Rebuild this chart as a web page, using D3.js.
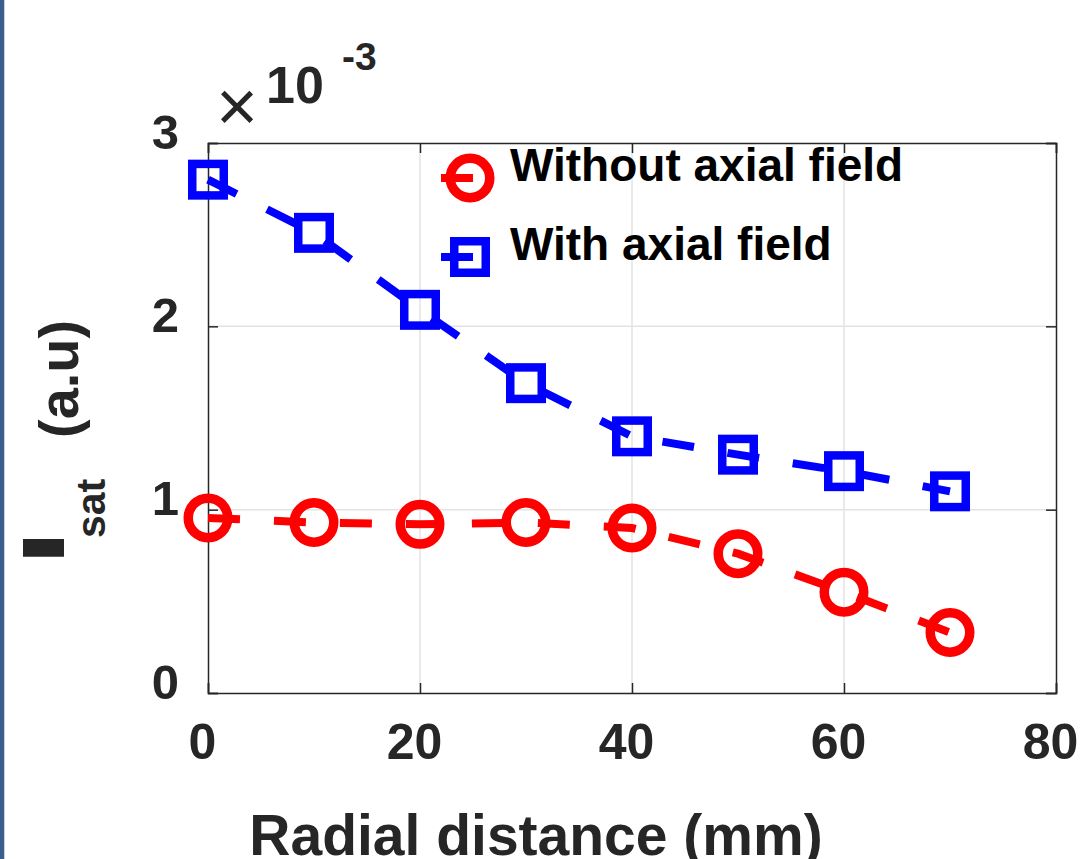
<!DOCTYPE html>
<html>
<head>
<meta charset="utf-8">
<script src="https://cdn.jsdelivr.net/npm/d3@7"></script>
<style>
  html, body { margin: 0; padding: 0; background: #fff; }
  svg { display: block; font-family: "Liberation Sans", Arial, sans-serif; font-weight: bold; }
</style>
</head>
<body>
<div id="chart"></div>
<script>
/* Isat vs radial distance, with and without axial field. */

var radialMm = [0, 10, 20, 30, 40, 50, 60, 70];
var withoutField = [0.955e-3, 0.93e-3, 0.92e-3, 0.93e-3, 0.90e-3, 0.76e-3, 0.55e-3, 0.33e-3];
var withField = [2.80e-3, 2.51e-3, 2.09e-3, 1.69e-3, 1.40e-3, 1.30e-3, 1.21e-3, 1.10e-3];
var xTicks = [0, 20, 40, 60, 80];
var yTicks = [0, 1e-3, 2e-3, 3e-3];
var seriesNames = ["Without axial field", "With axial field"];

var width = 1080, height = 859;
var m = { left: 208, top: 143, right: 1056, bottom: 693 };
var axisColor = "#262626";
var gridColor = "#e3e3e3";
var dash = "32,34";

var svg = d3.select("#chart").append("svg")
  .attr("width", width).attr("height", height)
  .attr("viewBox", "0 0 " + width + " " + height);

// left window edge
svg.append("rect").attr("x", 0).attr("y", 0).attr("width", 4).attr("height", height).attr("fill", "#3a5f8e");
svg.append("line").attr("x1", 4.5).attr("x2", 4.5).attr("y1", 0).attr("y2", height)
  .attr("stroke", "#c9d2de").attr("stroke-width", 1);

var x = d3.scaleLinear().domain([0, 80]).range([m.left, m.right]);
var y = d3.scaleLinear().domain([0, 3e-3]).range([m.bottom, m.top]);

// grid
svg.append("g").selectAll("line").data(xTicks.slice(1, -1)).enter().append("line")
  .attr("x1", function (d) { return x(d); }).attr("x2", function (d) { return x(d); })
  .attr("y1", m.top).attr("y2", m.bottom)
  .attr("stroke", gridColor).attr("stroke-width", 1.5);
svg.append("g").selectAll("line").data(yTicks.slice(1, -1)).enter().append("line")
  .attr("y1", function (d) { return y(d); }).attr("y2", function (d) { return y(d); })
  .attr("x1", m.left).attr("x2", m.right)
  .attr("stroke", gridColor).attr("stroke-width", 1.5);

// axes (ticks inward on all four sides)
var tickLen = 10;
var fmtY = function (d) { return Math.round(d * 1e3); };

var xb = svg.append("g").attr("transform", "translate(0," + m.bottom + ")")
  .call(d3.axisBottom(x).tickValues(xTicks).tickSize(-tickLen).tickPadding(0));
var xt = svg.append("g").attr("transform", "translate(0," + m.top + ")")
  .call(d3.axisTop(x).tickValues(xTicks).tickSize(-tickLen).tickFormat(""));
var yl = svg.append("g").attr("transform", "translate(" + m.left + ",0)")
  .call(d3.axisLeft(y).tickValues(yTicks).tickSize(-tickLen).tickFormat(fmtY));
var yr = svg.append("g").attr("transform", "translate(" + m.right + ",0)")
  .call(d3.axisRight(y).tickValues(yTicks).tickSize(-tickLen).tickFormat(""));

[xb, xt, yl, yr].forEach(function (g) {
  g.select(".domain").attr("stroke", axisColor).attr("stroke-width", 1.5);
  g.selectAll(".tick line").attr("stroke", axisColor).attr("stroke-width", 1.5);
});

xb.selectAll(".tick text")
  .attr("y", 66).attr("dy", null).attr("dx", -6)
  .attr("fill", axisColor).attr("font-size", 50).attr("font-weight", "bold")
  .attr("font-family", "Liberation Sans, Arial, sans-serif");
yl.selectAll(".tick text")
  .attr("x", -29).attr("dy", 5).attr("dominant-baseline", "auto")
  .attr("fill", axisColor).attr("font-size", 49).attr("font-weight", "bold")
  .attr("font-family", "Liberation Sans, Arial, sans-serif");

// exponent
svg.append("text").attr("x", 237).attr("y", 131).attr("text-anchor", "middle")
  .attr("font-size", 72).attr("font-weight", "normal").attr("fill", axisColor).text("\u00d7");
svg.append("text").attr("x", 266).attr("y", 103)
  .attr("font-size", 52).attr("fill", axisColor).text("10");
svg.append("text").attr("x", 342).attr("y", 70)
  .attr("font-size", 39).attr("fill", axisColor).text("-3");

// axis labels
svg.append("text").attr("x", 536).attr("y", 855).attr("text-anchor", "middle")
  .attr("font-size", 57).attr("fill", axisColor).text("Radial distance (mm)");

svg.append("text").attr("transform", "translate(64,548) rotate(-90) scale(2.2,1.05)")
  .attr("text-anchor", "middle").attr("font-size", 56).attr("fill", axisColor).text("I");
svg.append("text").attr("transform", "translate(105,538) rotate(-90)")
  .attr("font-size", 41).attr("fill", axisColor).text("sat");
svg.append("text").attr("transform", "translate(78,438) rotate(-90)")
  .attr("font-size", 56).attr("fill", axisColor).text("(a.u)");

// series
var line = d3.line()
  .x(function (d) { return x(d[0]); })
  .y(function (d) { return y(d[1]); });

var series = [
  { name: seriesNames[0], values: withoutField, color: "#ff0000", marker: "circle" },
  { name: seriesNames[1], values: withField, color: "#0000ff", marker: "square" }
];

function drawMarker(g, kind, cx, cy, color) {
  if (kind === "circle") {
    g.append("circle").attr("cx", cx).attr("cy", cy).attr("r", 19.75)
      .attr("fill", "none").attr("stroke", color).attr("stroke-width", 9.5);
  } else {
    var side = 31.5;
    g.append("rect").attr("x", cx - side / 2).attr("y", cy - side / 2)
      .attr("width", side).attr("height", side)
      .attr("fill", "none").attr("stroke", color).attr("stroke-width", 8.5);
  }
}

series.forEach(function (s) {
  var pts = radialMm.map(function (r, i) { return [r, s.values[i]]; });
  svg.append("path").datum(pts).attr("d", line)
    .attr("fill", "none").attr("stroke", s.color).attr("stroke-width", 8)
    .attr("stroke-dasharray", dash);
  var g = svg.append("g");
  pts.forEach(function (p) { drawMarker(g, s.marker, x(p[0]), y(p[1]), s.color); });
});

// legend (no box)
var legY = [178, 257];
series.forEach(function (s, i) {
  var g = svg.append("g");
  g.append("line").attr("x1", 441).attr("x2", 500).attr("y1", legY[i]).attr("y2", legY[i])
    .attr("stroke", s.color).attr("stroke-width", 8).attr("stroke-dasharray", dash);
  drawMarker(g, s.marker, 470, legY[i], s.color);
  g.append("text").attr("x", 510).attr("y", legY[i] + 3)
    .attr("font-size", 46).attr("fill", "#000").text(s.name);
});
</script>
</body>
</html>
